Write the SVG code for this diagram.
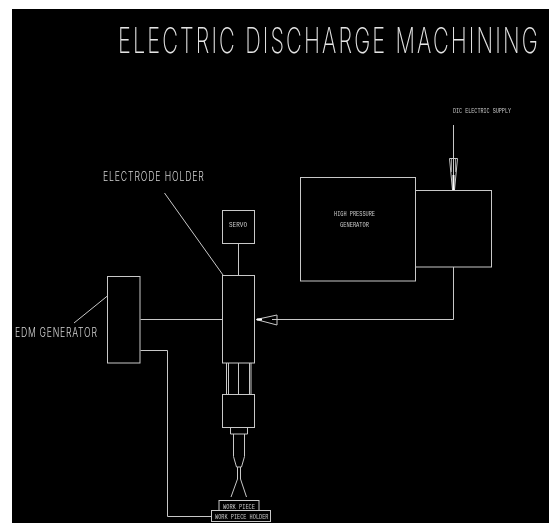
<svg xmlns="http://www.w3.org/2000/svg" width="549" height="523" viewBox="0 0 549 523">
<defs><filter id="grey" x="-5%" y="-50%" width="110%" height="200%" color-interpolation-filters="sRGB"><feColorMatrix type="saturate" values="0"/></filter></defs>
<style>
.l{fill:none;stroke:#c8c8c8;stroke-width:1}
text{filter:url(#grey)}
.t{font-family:"Inter","Roboto","Liberation Sans",sans-serif;font-weight:200;fill:#e4e4e4}
.m{font-family:"Inter","Roboto","Liberation Sans",sans-serif;font-weight:300;fill:#d4d4d4;font-size:12.4px}
.s{font-family:"Liberation Mono",monospace;fill:#c8c8c8;font-size:8px}
</style>
<rect width="549" height="523" fill="#fff"/>
<rect x="12" y="9" width="537" height="514" fill="#000"/>
<text id="title" class="t" transform="translate(118 52.500) scale(.62 1)" font-size="35" textLength="677" lengthAdjust="spacing">ELECTRIC DISCHARGE MACHINING</text>
<g id="connectors" class="l">
<path d="M164.500 193L223 275"/>
<path d="M238.500 243.500V275.500"/>
<path d="M140.500 319.500H222.500"/>
<path d="M140.500 350.500H167.500V516.500H211.500"/>
<path d="M74 323L108 295.500"/>
<path d="M453.500 125V190.500"/>
<path d="M453.500 267V319.500H272"/>
<path d="M256 319.500L277 315V325Z"/>
<path d="M257 319.500H262" stroke="#fff" stroke-width="2"/>
<path d="M449.500 158.500H457.500L454.500 190H452.500Z"/>
<path d="M451.500 159V172M455.500 159V172" stroke="#999"/>
<path d="M453.500 175V190" stroke="#fff" stroke-width="2"/>
<path d="M226.500 363V394M228.500 363V394M238.500 363V394M249.500 363V394M251 363V394"/>
<path d="M230.500 428V434H247.500V428"/>
<path d="M233.500 434V456.500L236.500 467H241.500L244.500 456.500V434"/>
<path d="M237.500 467V479M240.500 467V479"/>
<path d="M237.500 479L231 497M240.500 479L246.500 497"/>
</g>
<g id="electric-supply"><text class="s" x="453" y="113" textLength="58" lengthAdjust="spacingAndGlyphs">DIC ELECTRIC SUPPLY</text></g>
<g id="high-pressure-generator"><rect class="l" x="300.500" y="177.500" width="115" height="103.500"/><text class="s" x="334" y="215.500" textLength="41" lengthAdjust="spacingAndGlyphs">HIGH PRESSURE</text><text class="s" x="340" y="226.800" textLength="29" lengthAdjust="spacingAndGlyphs">GENERATOR</text></g>
<g id="supply-box"><rect class="l" x="415.500" y="190.500" width="76" height="76.500"/></g>
<g id="electrode-holder-label"><text class="m" transform="translate(103 181) scale(.7 1)" textLength="144" lengthAdjust="spacing">ELECTRODE HOLDER</text></g>
<g id="servo"><rect class="l" x="222.500" y="210.500" width="32" height="33"/><text class="s" x="229" y="227" textLength="18" lengthAdjust="spacingAndGlyphs">SERVO</text></g>
<g id="electrode-holder"><rect class="l" x="222.500" y="275.500" width="32" height="87.500"/></g>
<g id="lower-holder"><rect class="l" x="222.500" y="394.500" width="32" height="33"/></g>
<g id="edm-generator"><rect class="l" x="107.500" y="276.500" width="32.500" height="86.500"/><text class="m" transform="translate(15 337) scale(.7 1)" textLength="117" lengthAdjust="spacing">EDM GENERATOR</text></g>
<g id="work-piece"><rect class="l" x="219" y="500.500" width="40" height="10"/><text class="s" x="223" y="508.500" textLength="32" lengthAdjust="spacingAndGlyphs">WORK PIECE</text></g>
<g id="work-piece-holder"><rect class="l" x="211.500" y="510.500" width="59" height="11"/><text class="s" x="215" y="519" textLength="53.500" lengthAdjust="spacingAndGlyphs">WORK PIECE HOLDER</text></g>
</svg>
